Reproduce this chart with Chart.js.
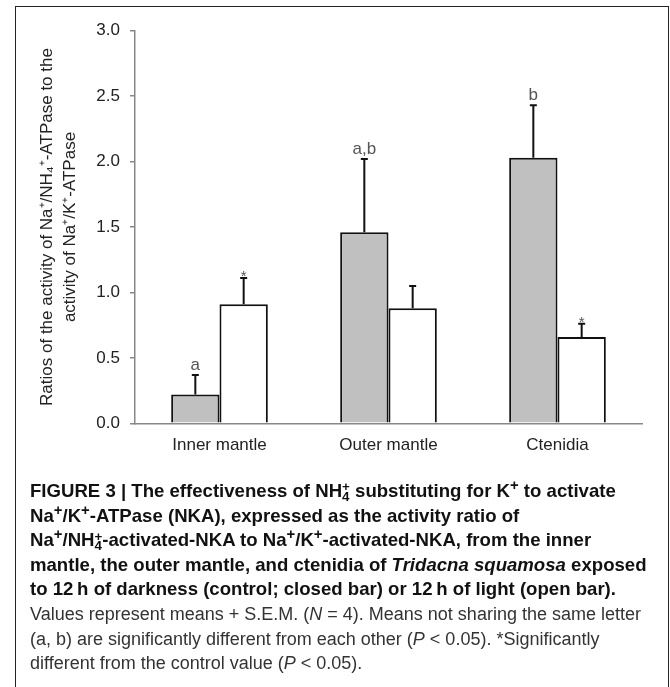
<!DOCTYPE html>
<html><head><meta charset="utf-8">
<script src="https://cdn.jsdelivr.net/npm/chart.js@4.4.0/dist/chart.umd.min.js"></script>
<style>
html,body{margin:0;padding:0;background:#fff;width:670px;height:687px;overflow:hidden;}
#wrap{position:relative;width:670px;height:687px;}
#frame{position:absolute;left:15px;top:6px;width:654px;height:700px;border:1.5px solid #222;box-sizing:border-box;pointer-events:none;}
#c{position:absolute;left:0;top:0;}
#cap{position:absolute;left:30px;top:479px;font-family:"Liberation Sans",Arial,sans-serif;color:#111;}
.l{white-space:nowrap;height:24.6px;line-height:24.6px;}
.b{font-weight:bold;font-size:18.6px;}
.n{font-size:18px;color:#333;}
.ss{display:inline-block;vertical-align:-0.3em;line-height:0.72em;font-size:0.72em;text-align:left;}
.ss span{display:block;}
sup.s{font-size:0.8em;vertical-align:0.45em;line-height:0;}
</style></head>
<body><div id="wrap">
<canvas id="c" width="670" height="470"></canvas>
<div id="frame"></div>
<div id="cap">
<div class="l b">FIGURE 3 | The effectiveness of NH<span class="ss"><span>+</span><span>4</span></span> substituting for K<sup class="s">+</sup> to activate</div>
<div class="l b">Na<sup class="s">+</sup>/K<sup class="s">+</sup>-ATPase (NKA), expressed as the activity ratio of</div>
<div class="l b">Na<sup class="s">+</sup>/NH<span class="ss"><span>+</span><span>4</span></span>-activated-NKA to Na<sup class="s">+</sup>/K<sup class="s">+</sup>-activated-NKA, from the inner</div>
<div class="l b">mantle, the outer mantle, and ctenidia of <i>Tridacna squamosa</i> exposed</div>
<div class="l b">to 12&#8201;h of darkness (control; closed bar) or 12&#8201;h of light (open bar).</div>
<div class="l n">Values represent means + S.E.M. (<i>N</i> = 4). Means not sharing the same letter</div>
<div class="l n">(a, b) are significantly different from each other (<i>P</i> &lt; 0.05). *Significantly</div>
<div class="l n">different from the control value (<i>P</i> &lt; 0.05).</div>
</div>
</div>
<script>
const categories = ['Inner mantle', 'Outer mantle', 'Ctenidia'];
const darkMeans = [0.22, 1.46, 2.03];
const darkSem = [0.15, 0.56, 0.40];
const lightMeans = [0.91, 0.88, 0.66];
const lightSem = [0.20, 0.17, 0.10];
const darkMarks = ['a', 'a,b', 'b'];
const lightMarks = ['*', '', '*'];
const yTicks = [0.0, 0.5, 1.0, 1.5, 2.0, 2.5, 3.0];
const yTitle = ['Ratios of the activity of Na\u207A/NH\u2084\u207A-ATPase to the', 'activity of Na\u207A/K\u207A-ATPase'];

const FONT = '"Liberation Sans", Arial, sans-serif';

const errPlugin = {
  id: 'errbars',
  afterDatasetsDraw(chart) {
    const ctx = chart.ctx, ys = chart.scales.y;
    chart.data.datasets.forEach((ds, di) => {
      const meta = chart.getDatasetMeta(di);
      meta.data.forEach((bar, i) => {
        const x = bar.x;
        const top = ys.getPixelForValue(ds.data[i] + ds.sem[i]);
        ctx.save();
        ctx.strokeStyle = '#111';
        ctx.lineWidth = 2;
        ctx.beginPath();
        ctx.moveTo(x, bar.y);
        ctx.lineTo(x, top);
        ctx.moveTo(x - 3.5, top);
        ctx.lineTo(x + 3.5, top);
        ctx.stroke();
        const lab = ds.marks[i];
        if (lab) {
          ctx.fillStyle = '#555';
          ctx.textAlign = 'center';
          ctx.textBaseline = 'alphabetic';
          if (lab === '*') {
            ctx.font = '15px ' + FONT;
            ctx.fillText(lab, x, top + 3);
          } else {
            ctx.font = '17px ' + FONT;
            ctx.fillText(lab, x, top - 5);
          }
        }
        ctx.restore();
      });
    });
  }
};

new Chart(document.getElementById('c'), {
  type: 'bar',
  data: {
    labels: categories,
    datasets: [
      { label: 'Darkness (control)', data: darkMeans, sem: darkSem, marks: darkMarks,
        backgroundColor: '#c0c0c0', borderColor: '#111', borderWidth: 2 },
      { label: 'Light', data: lightMeans, sem: lightSem, marks: lightMarks,
        backgroundColor: '#ffffff', borderColor: '#111', borderWidth: 2 }
    ]
  },
  options: {
    responsive: false,
    animation: false,
    devicePixelRatio: 1,
    layout: { padding: { left: 0, right: 28, top: 30.7, bottom: 0 } },
    plugins: { legend: { display: false }, tooltip: { enabled: false } },
    datasets: { bar: { categoryPercentage: 0.572, barPercentage: 1.0 } },
    scales: {
      x: {
        grid: { display: false, drawTicks: false },
        border: { display: true, color: '#888', width: 1.5 },
        ticks: { color: '#222', font: { family: FONT, size: 17 }, padding: 12 },
        afterFit(s) { s.height = 470 - 423.3; }
      },
      y: {
        min: 0, max: 3,
        afterBuildTicks(s) { s.ticks = yTicks.map(v => ({ value: v })); },
        grid: { drawOnChartArea: false, drawTicks: true, tickLength: 5, color: '#888', lineWidth: 1.5 },
        border: { display: true, color: '#888', width: 1.5 },
        ticks: { color: '#222', font: { family: FONT, size: 17 }, padding: 10,
          callback: v => Number(v).toFixed(1) },
        title: { display: true, text: yTitle, color: '#222',
          font: { family: FONT, size: 17, lineHeight: 1.353 }, padding: { top: 35.5, bottom: 0 } },
        afterFit(s) { s.width = 135; }
      }
    }
  },
  plugins: [errPlugin]
});
</script>
</body></html>
